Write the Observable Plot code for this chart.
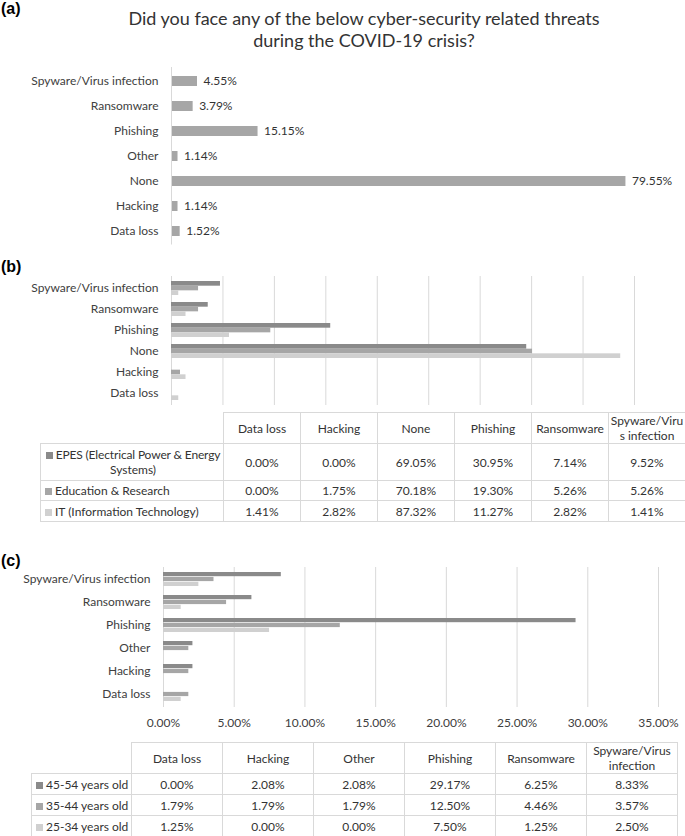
<!DOCTYPE html>
<html><head><meta charset="utf-8">
<script src="https://cdn.jsdelivr.net/npm/d3@7"></script>
<script src="https://cdn.jsdelivr.net/npm/@observablehq/plot@0.6"></script>
<style>
body{margin:0;background:#fff;}
#root{position:relative;width:685px;height:836px;font-family:Lato,"Open Sans",sans-serif;color:#404040;overflow:hidden;background:#fff}
#root svg{position:absolute;left:0;overflow:visible}
.panel{position:absolute;left:1px;font:bold 16px "Liberation Sans",Arial,sans-serif;color:#000}
.title{position:absolute;left:64px;width:600px;text-align:center;font-size:18px;line-height:22px;color:#333}
table{position:absolute;border-collapse:collapse;table-layout:fixed;font-size:12px;color:#333}
td{border:1px solid #d9d9d9;text-align:center;vertical-align:middle;padding:0 1px;line-height:15px;overflow:hidden}
td.blank{border-top:none;border-left:none}
td.lab{text-align:left;padding-left:4px;white-space:nowrap}
td.labw{text-align:center;padding:0 2px 0 4px}
td.labw .first{white-space:nowrap;letter-spacing:-0.15px}
.key{display:inline-block;width:7px;height:7px;margin-right:3px;vertical-align:0px}
</style></head>
<body>
<div id="root"></div>
<script>
// ---------- data ----------
const catsA = ["Spyware/Virus infection","Ransomware","Phishing","Other","None","Hacking","Data loss"];
const valsA = [4.55,3.79,15.15,1.14,79.55,1.14,1.52];

const catsB = ["Data loss","Hacking","None","Phishing","Ransomware","Spyware/Virus infection"];
const seriesB = ["EPES (Electrical Power & Energy Systems)","Education & Research","IT (Information Technology)"];
const epesB = [0.00,0.00,69.05,30.95,7.14,9.52];
const eduB  = [0.00,1.75,70.18,19.30,5.26,5.26];
const itB   = [1.41,2.82,87.32,11.27,2.82,1.41];
const ticksB = [0,10,20,30,40,50,60,70,80,90];

const catsC = ["Data loss","Hacking","Other","Phishing","Ransomware","Spyware/Virus infection"];
const seriesC = ["45-54 years old","35-44 years old","25-34 years old"];
const age4554 = [0.00,2.08,2.08,29.17,6.25,8.33];
const age3544 = [1.79,1.79,1.79,12.50,4.46,3.57];
const age2534 = [1.25,0.00,0.00,7.50,1.25,2.50];
const ticksC = [0,5,10,15,20,25,30,35];

const shades = ["#8a8a8a","#a6a6a6","#d0d0d0"];
const titleLines = ["Did you face any of the below cyber-security related threats","during the COVID-19 crisis?"];

// ---------- helpers ----------
const root = document.getElementById("root");
const pct = v => v.toFixed(2) + "%";
const esc = s => s.replace(/&/g,"&amp;");
const baseStyle = {fontFamily:"Lato, 'Open Sans', sans-serif", fontSize:"12px", color:"#404040", background:"transparent", overflow:"visible"};
function place(el, top){ el.style.top = top + "px"; root.appendChild(el); return el; }
function div(cls, html, top){ const d=document.createElement("div"); d.className=cls; d.innerHTML=html; return place(d, top); }

// ---------- panel (a) ----------
div("panel","(a)",0);
div("title", titleLines.join("<br>"), 7);
const dataA = catsA.map((c,i)=>({c, v:valsA[i]}));
const plotA = Plot.plot({
  width:685, height:205, marginTop:17, marginBottom:10.5, marginLeft:171, marginRight:57,
  x:{domain:[0,80], axis:null},
  y:{domain:catsA, paddingInner:0.6, paddingOuter:0.3, label:null, tickSize:0, tickPadding:13},
  style:baseStyle,
  marks:[
    Plot.barX(dataA,{x:"v", y:"c", fill:"#a6a6a6"}),
    Plot.ruleX([0],{stroke:"#d9d9d9"}),
    Plot.text(dataA,{x:"v", y:"c", text:d=>pct(d.v), textAnchor:"start", dx:6, fill:"#333"})
  ]
});
place(plotA, 50);

// ---------- panel (b) ----------
div("panel","(b)",258);
const valsB = [epesB, eduB, itB];
const hB = 150, mtB = 11, mbB = 10;
const bwB = (hB-mtB-mbB)/catsB.length*0.65, thirdB = bwB/3;
const plotB = Plot.plot({
  width:685, height:hB, marginTop:mtB, marginBottom:mbB, marginLeft:171, marginRight:51,
  x:{domain:[0,90], axis:null},
  y:{domain:catsB.slice().reverse(), paddingInner:0.35, paddingOuter:0.175, label:null, tickSize:0, tickPadding:13},
  style:baseStyle,
  marks:[
    Plot.ruleX(ticksB,{stroke:"#d9d9d9"}),
    ...valsB.map((vals,si)=>Plot.barX(catsB.map((c,ci)=>({c, v:vals[ci]})),
      {x:"v", y:"c", fill:shades[si], insetTop:si*thirdB, insetBottom:(2-si)*thirdB}))
  ]
});
place(plotB, 265);

// tables
function buildTable(cats, series, vals, left, top, labW, colW, rowHs, header, wrapFirst){
  const t = document.createElement("table");
  t.style.left = left+"px"; t.style.top = top+"px";
  t.style.width = (labW + colW*cats.length) + "px";
  let h = `<colgroup><col style="width:${labW}px">` + cats.map(()=>`<col style="width:${colW}px">`).join("") + `</colgroup>`;
  h += `<tr style="height:${rowHs[0]}px"><td class="blank"></td>` + header.map(s=>`<td>${s}</td>`).join("") + `</tr>`;
  series.forEach((s,si)=>{
    let label;
    if (wrapFirst && si===0) {
      const cut = s.lastIndexOf(" ");
      label = `<td class="labw"><span class="first"><span class="key" style="background:${shades[si]}"></span>${esc(s.slice(0,cut))}</span> ${esc(s.slice(cut+1))}</td>`;
    } else {
      label = `<td class="lab"><span class="key" style="background:${shades[si]}"></span>${esc(s)}</td>`;
    }
    h += `<tr style="height:${rowHs[si+1]}px">${label}` + vals[si].map(v=>`<td>${pct(v)}</td>`).join("") + `</tr>`;
  });
  t.innerHTML = h;
  root.appendChild(t);
}
buildTable(catsB, seriesB, valsB, 40, 412, 183, 77, [31,37,20,21],
  catsB.map(c=>c.replace("Viru","Viru<wbr>")), true);

// ---------- panel (c) ----------
div("panel","(c)",552);
const valsC = [age4554, age3544, age2534];
const hC = 185, mtC = 12, mbC = 33;
const bwC = (hC-mtC-mbC)/catsC.length*0.63, thirdC = bwC/3;
const plotC = Plot.plot({
  width:685, height:hC, marginTop:mtC, marginBottom:mbC, marginLeft:163, marginRight:27,
  x:{domain:[0,35], ticks:ticksC, tickFormat:pct, tickSize:0, tickPadding:11, label:null},
  y:{domain:catsC.slice().reverse(), paddingInner:0.37, paddingOuter:0.185, label:null, tickSize:0, tickPadding:13},
  style:baseStyle,
  marks:[
    Plot.ruleX(ticksC,{stroke:"#d9d9d9"}),
    ...valsC.map((vals,si)=>Plot.barX(catsC.map((c,ci)=>({c, v:vals[ci]})),
      {x:"v", y:"c", fill:shades[si], insetTop:si*thirdC, insetBottom:(2-si)*thirdC}))
  ]
});
place(plotC, 555);

buildTable(catsC, seriesC, valsC, 31, 742, 100, 91, [31,21,21,21], catsC, false);
</script>
</body></html>
